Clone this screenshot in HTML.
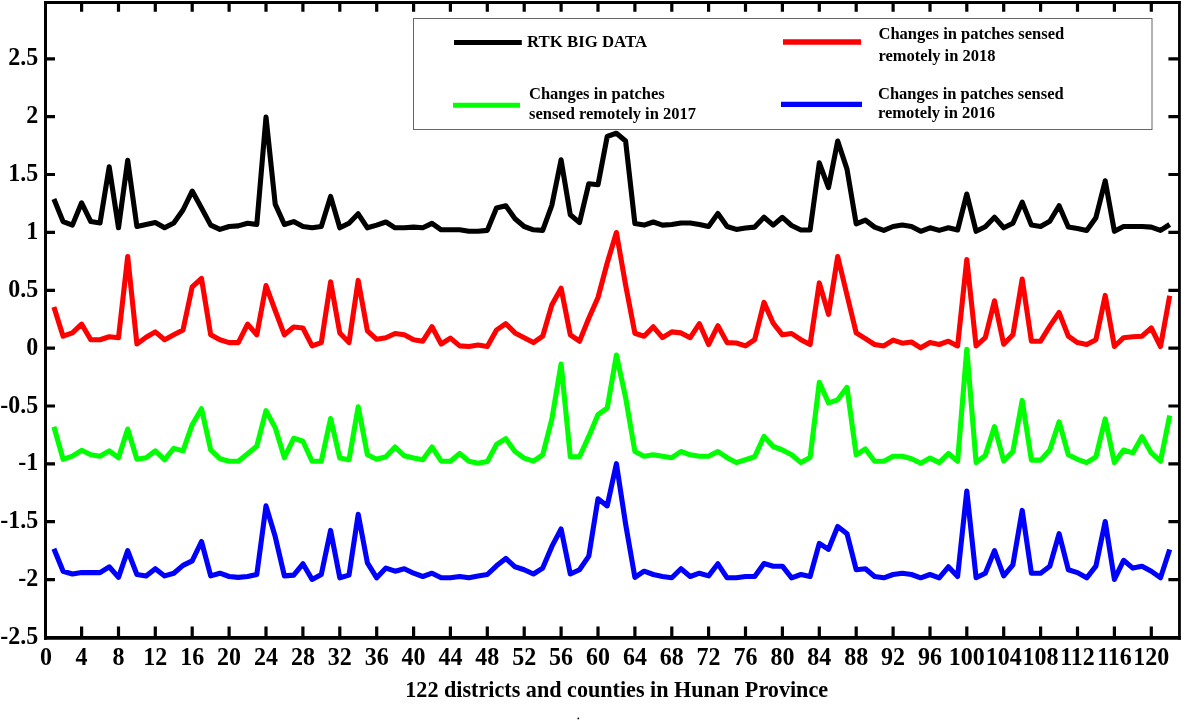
<!DOCTYPE html>
<html><head><meta charset="utf-8"><title>Chart</title>
<style>
html,body{margin:0;padding:0;background:#fff;}
body{width:1182px;height:720px;overflow:hidden;font-family:"Liberation Serif",serif;}
svg{display:block;will-change:transform;}
</style></head>
<body>
<svg width="1182" height="720" viewBox="0 0 1182 720">
<path d="M45.5 1V639.7" stroke="#000" stroke-width="3"/>
<path d="M44 2.5H1180.8" stroke="#000" stroke-width="3"/>
<path d="M1179.45 1V639.7" stroke="#000" stroke-width="2.8"/>
<path d="M44 637.9H1180.8" stroke="#000" stroke-width="3.7"/>
<path d="M81.6 2.5V11.8M81.6 637.9V626.4M118.5 2.5V11.8M118.5 637.9V626.4M155.3 2.5V11.8M155.3 637.9V626.4M192.2 2.5V11.8M192.2 637.9V626.4M229.1 2.5V11.8M229.1 637.9V626.4M266.0 2.5V11.8M266.0 637.9V626.4M302.9 2.5V11.8M302.9 637.9V626.4M339.8 2.5V11.8M339.8 637.9V626.4M376.7 2.5V11.8M376.7 637.9V626.4M413.6 2.5V11.8M413.6 637.9V626.4M450.4 2.5V11.8M450.4 637.9V626.4M487.3 2.5V11.8M487.3 637.9V626.4M524.2 2.5V11.8M524.2 637.9V626.4M561.1 2.5V11.8M561.1 637.9V626.4M598.0 2.5V11.8M598.0 637.9V626.4M634.9 2.5V11.8M634.9 637.9V626.4M671.8 2.5V11.8M671.8 637.9V626.4M708.6 2.5V11.8M708.6 637.9V626.4M745.5 2.5V11.8M745.5 637.9V626.4M782.4 2.5V11.8M782.4 637.9V626.4M819.3 2.5V11.8M819.3 637.9V626.4M856.2 2.5V11.8M856.2 637.9V626.4M893.1 2.5V11.8M893.1 637.9V626.4M930.0 2.5V11.8M930.0 637.9V626.4M966.8 2.5V11.8M966.8 637.9V626.4M1003.7 2.5V11.8M1003.7 637.9V626.4M1040.6 2.5V11.8M1040.6 637.9V626.4M1077.5 2.5V11.8M1077.5 637.9V626.4M1114.4 2.5V11.8M1114.4 637.9V626.4M1151.3 2.5V11.8M1151.3 637.9V626.4M45.5 579.6H55.0M1179.4 579.6H1168.4M45.5 521.7H55.0M1179.4 521.7H1168.4M45.5 463.9H55.0M1179.4 463.9H1168.4M45.5 406.0H55.0M1179.4 406.0H1168.4M45.5 348.1H55.0M1179.4 348.1H1168.4M45.5 290.3H55.0M1179.4 290.3H1168.4M45.5 232.4H55.0M1179.4 232.4H1168.4M45.5 174.5H55.0M1179.4 174.5H1168.4M45.5 116.7H55.0M1179.4 116.7H1168.4M45.5 58.8H55.0M1179.4 58.8H1168.4" stroke="#000" stroke-width="3.2" fill="none"/>
<g font-family="Liberation Serif" font-weight="bold" font-size="24" fill="#000"><text transform="translate(46.1 664.7) scale(1 1.09)" text-anchor="middle">0</text><text transform="translate(81.6 664.7) scale(1 1.09)" text-anchor="middle">4</text><text transform="translate(118.5 664.7) scale(1 1.09)" text-anchor="middle">8</text><text transform="translate(155.3 664.7) scale(1 1.09)" text-anchor="middle">12</text><text transform="translate(192.2 664.7) scale(1 1.09)" text-anchor="middle">16</text><text transform="translate(229.1 664.7) scale(1 1.09)" text-anchor="middle">20</text><text transform="translate(266.0 664.7) scale(1 1.09)" text-anchor="middle">24</text><text transform="translate(302.9 664.7) scale(1 1.09)" text-anchor="middle">28</text><text transform="translate(339.8 664.7) scale(1 1.09)" text-anchor="middle">32</text><text transform="translate(376.7 664.7) scale(1 1.09)" text-anchor="middle">36</text><text transform="translate(413.6 664.7) scale(1 1.09)" text-anchor="middle">40</text><text transform="translate(450.4 664.7) scale(1 1.09)" text-anchor="middle">44</text><text transform="translate(487.3 664.7) scale(1 1.09)" text-anchor="middle">48</text><text transform="translate(524.2 664.7) scale(1 1.09)" text-anchor="middle">52</text><text transform="translate(561.1 664.7) scale(1 1.09)" text-anchor="middle">56</text><text transform="translate(598.0 664.7) scale(1 1.09)" text-anchor="middle">60</text><text transform="translate(634.9 664.7) scale(1 1.09)" text-anchor="middle">64</text><text transform="translate(671.8 664.7) scale(1 1.09)" text-anchor="middle">68</text><text transform="translate(708.6 664.7) scale(1 1.09)" text-anchor="middle">72</text><text transform="translate(745.5 664.7) scale(1 1.09)" text-anchor="middle">76</text><text transform="translate(782.4 664.7) scale(1 1.09)" text-anchor="middle">80</text><text transform="translate(819.3 664.7) scale(1 1.09)" text-anchor="middle">84</text><text transform="translate(856.2 664.7) scale(1 1.09)" text-anchor="middle">88</text><text transform="translate(893.1 664.7) scale(1 1.09)" text-anchor="middle">92</text><text transform="translate(930.0 664.7) scale(1 1.09)" text-anchor="middle">96</text><text transform="translate(966.8 664.7) scale(1 1.09)" text-anchor="middle">100</text><text transform="translate(1003.7 664.7) scale(1 1.09)" text-anchor="middle">104</text><text transform="translate(1040.6 664.7) scale(1 1.09)" text-anchor="middle">108</text><text transform="translate(1077.5 664.7) scale(1 1.09)" text-anchor="middle">112</text><text transform="translate(1114.4 664.7) scale(1 1.09)" text-anchor="middle">116</text><text transform="translate(1151.3 664.7) scale(1 1.09)" text-anchor="middle">120</text></g>
<g font-family="Liberation Serif" font-weight="bold" font-size="24" fill="#000"><text transform="translate(38.3 643.9) scale(1 1.03)" text-anchor="end">-2.5</text><text transform="translate(38.3 586.1) scale(1 1.03)" text-anchor="end">-2</text><text transform="translate(38.3 528.2) scale(1 1.03)" text-anchor="end">-1.5</text><text transform="translate(38.3 470.4) scale(1 1.03)" text-anchor="end">-1</text><text transform="translate(38.3 412.5) scale(1 1.03)" text-anchor="end">-0.5</text><text transform="translate(38.3 354.6) scale(1 1.03)" text-anchor="end">0</text><text transform="translate(38.3 296.8) scale(1 1.03)" text-anchor="end">0.5</text><text transform="translate(38.3 238.9) scale(1 1.03)" text-anchor="end">1</text><text transform="translate(38.3 181.0) scale(1 1.03)" text-anchor="end">1.5</text><text transform="translate(38.3 123.2) scale(1 1.03)" text-anchor="end">2</text><text transform="translate(38.3 65.3) scale(1 1.03)" text-anchor="end">2.5</text></g>
<polyline points="53.9,199.0 63.1,221.6 72.4,225.1 81.6,202.8 90.8,221.6 100.0,223.0 109.2,166.8 118.5,227.8 127.7,160.4 136.9,226.5 146.1,224.5 155.3,222.6 164.6,227.8 173.8,223.0 183.0,210.0 192.2,191.1 201.5,208.0 210.7,225.1 219.9,229.4 229.1,226.5 238.3,225.9 247.6,223.2 256.8,224.5 266.0,117.1 275.2,204.1 284.4,224.5 293.7,221.6 302.9,226.5 312.1,227.8 321.3,226.5 330.6,196.4 339.8,227.8 349.0,223.2 358.2,213.8 367.4,227.8 376.7,225.1 385.9,222.0 395.1,227.8 404.3,227.8 413.6,227.1 422.8,227.8 432.0,223.4 441.2,229.8 450.4,229.8 459.7,229.8 468.9,231.3 478.1,231.3 487.3,230.4 496.5,208.0 505.8,205.7 515.0,218.7 524.2,226.5 533.4,229.8 542.7,230.4 551.9,205.1 561.1,159.8 570.3,214.8 579.5,222.6 588.8,183.7 598.0,184.7 607.2,136.5 616.4,133.2 625.6,141.0 634.9,223.6 644.1,225.1 653.3,222.0 662.5,225.1 671.8,224.5 681.0,223.0 690.2,223.0 699.4,224.5 708.6,226.5 717.9,213.5 727.1,226.5 736.3,229.4 745.5,228.0 754.7,227.1 764.0,217.3 773.2,225.1 782.4,217.3 791.6,225.5 800.9,230.0 810.1,230.0 819.3,162.9 828.5,187.6 837.7,141.0 847.0,169.1 856.2,223.9 865.4,220.1 874.6,227.1 883.8,230.4 893.1,226.5 902.3,225.1 911.5,226.5 920.7,231.3 930.0,227.8 939.2,230.4 948.4,227.8 957.6,230.0 966.8,194.0 976.1,231.3 985.3,226.8 994.5,217.3 1003.7,227.8 1012.9,223.2 1022.2,202.2 1031.4,225.1 1040.6,226.5 1049.8,221.2 1059.1,205.7 1068.3,227.1 1077.5,228.4 1086.7,230.4 1095.9,217.7 1105.2,180.8 1114.4,231.3 1123.6,226.5 1132.8,226.5 1142.0,226.5 1151.3,227.1 1160.5,230.4 1169.7,224.5" fill="none" stroke="#000" stroke-width="5.1" stroke-linejoin="round" stroke-linecap="butt"/>
<polyline points="53.9,307.0 63.1,336.2 72.4,332.9 81.6,324.1 90.8,339.7 100.0,339.7 109.2,336.8 118.5,337.7 127.7,256.5 136.9,344.0 146.1,337.3 155.3,331.9 164.6,339.7 173.8,334.8 183.0,330.0 192.2,286.8 201.5,278.5 210.7,334.8 219.9,339.7 229.1,342.6 238.3,342.6 247.6,324.1 256.8,334.8 266.0,285.6 275.2,310.5 284.4,334.8 293.7,327.0 302.9,328.0 312.1,345.9 321.3,342.6 330.6,281.8 339.8,332.9 349.0,342.6 358.2,280.4 367.4,330.9 376.7,339.3 385.9,337.7 395.1,333.5 404.3,334.8 413.6,339.7 422.8,341.2 432.0,326.7 441.2,344.0 450.4,338.1 459.7,345.9 468.9,346.5 478.1,345.1 487.3,346.5 496.5,330.0 505.8,323.7 515.0,332.9 524.2,337.7 533.4,342.6 542.7,336.2 551.9,304.7 561.1,288.2 570.3,334.8 579.5,341.2 588.8,318.3 598.0,297.5 607.2,263.0 616.4,232.5 625.6,285.0 634.9,333.3 644.1,336.2 653.3,326.8 662.5,337.7 671.8,331.9 681.0,332.9 690.2,337.7 699.4,323.7 708.6,344.5 717.9,325.7 727.1,342.6 736.3,343.0 745.5,345.9 754.7,339.7 764.0,302.4 773.2,323.2 782.4,334.8 791.6,333.5 800.9,339.7 810.1,344.5 819.3,282.9 828.5,314.4 837.7,256.5 847.0,295.0 856.2,332.9 865.4,338.7 874.6,344.5 883.8,345.9 893.1,340.1 902.3,343.2 911.5,342.0 920.7,347.8 930.0,342.6 939.2,344.5 948.4,341.2 957.6,345.9 966.8,259.6 976.1,345.9 985.3,337.7 994.5,300.8 1003.7,344.2 1012.9,334.8 1022.2,279.0 1031.4,341.2 1040.6,341.2 1049.8,326.1 1059.1,312.5 1068.3,336.2 1077.5,342.6 1086.7,344.5 1095.9,339.7 1105.2,295.4 1114.4,346.5 1123.6,337.7 1132.8,336.8 1142.0,336.2 1151.3,328.0 1160.5,346.5 1169.7,295.8" fill="none" stroke="#ff0000" stroke-width="5.1" stroke-linejoin="round" stroke-linecap="butt"/>
<polyline points="53.9,426.7 63.1,459.3 72.4,456.2 81.6,450.3 90.8,454.8 100.0,456.2 109.2,450.9 118.5,457.7 127.7,429.0 136.9,459.3 146.1,457.7 155.3,450.9 164.6,459.7 173.8,448.4 183.0,450.9 192.2,424.7 201.5,408.8 210.7,450.0 219.9,458.7 229.1,461.2 238.3,461.2 247.6,453.8 256.8,446.1 266.0,410.7 275.2,427.6 284.4,457.7 293.7,438.3 302.9,441.2 312.1,461.2 321.3,461.2 330.6,418.5 339.8,458.1 349.0,459.7 358.2,406.8 367.4,454.8 376.7,459.3 385.9,456.8 395.1,447.0 404.3,455.8 413.6,458.1 422.8,459.7 432.0,447.0 441.2,461.2 450.4,461.2 459.7,453.5 468.9,461.2 478.1,463.2 487.3,461.6 496.5,444.5 505.8,438.7 515.0,451.5 524.2,458.1 533.4,461.2 542.7,454.8 551.9,418.9 561.1,364.0 570.3,456.8 579.5,456.8 588.8,436.4 598.0,414.6 607.2,408.2 616.4,355.1 625.6,397.5 634.9,451.5 644.1,456.2 653.3,454.8 662.5,456.2 671.8,457.7 681.0,451.5 690.2,454.8 699.4,456.2 708.6,456.2 717.9,451.5 727.1,457.7 736.3,462.6 745.5,459.7 754.7,456.8 764.0,436.4 773.2,446.5 782.4,450.0 791.6,454.8 800.9,462.6 810.1,457.5 819.3,382.3 828.5,402.9 837.7,399.8 847.0,387.4 856.2,454.8 865.4,449.0 874.6,461.2 883.8,461.2 893.1,456.2 902.3,456.2 911.5,458.7 920.7,463.2 930.0,458.1 939.2,462.6 948.4,453.5 957.6,461.2 966.8,349.3 976.1,462.6 985.3,455.4 994.5,426.6 1003.7,460.9 1012.9,451.5 1022.2,400.4 1031.4,460.1 1040.6,460.1 1049.8,450.0 1059.1,421.8 1068.3,454.8 1077.5,459.3 1086.7,462.6 1095.9,456.8 1105.2,418.9 1114.4,462.6 1123.6,450.0 1132.8,452.9 1142.0,436.7 1151.3,452.9 1160.5,461.2 1169.7,415.5" fill="none" stroke="#00ff00" stroke-width="5.1" stroke-linejoin="round" stroke-linecap="butt"/>
<polyline points="53.9,548.7 63.1,571.2 72.4,574.0 81.6,572.6 90.8,572.6 100.0,572.6 109.2,566.8 118.5,577.4 127.7,550.6 136.9,574.5 146.1,575.9 155.3,568.7 164.6,575.9 173.8,573.2 183.0,565.4 192.2,560.9 201.5,541.5 210.7,575.9 219.9,573.2 229.1,576.5 238.3,577.4 247.6,576.5 256.8,574.5 266.0,505.9 275.2,536.6 284.4,575.9 293.7,575.1 302.9,563.8 312.1,579.4 321.3,574.5 330.6,530.4 339.8,577.8 349.0,575.1 358.2,514.3 367.4,562.9 376.7,577.8 385.9,568.1 395.1,571.2 404.3,568.7 413.6,573.2 422.8,576.5 432.0,573.2 441.2,577.8 450.4,577.8 459.7,576.5 468.9,577.8 478.1,575.9 487.3,574.5 496.5,565.8 505.8,558.4 515.0,566.8 524.2,569.7 533.4,574.0 542.7,568.1 551.9,546.4 561.1,528.9 570.3,574.0 579.5,569.7 588.8,556.1 598.0,498.7 607.2,505.9 616.4,463.7 625.6,524.0 634.9,577.4 644.1,571.2 653.3,574.5 662.5,576.5 671.8,577.8 681.0,568.7 690.2,576.5 699.4,573.2 708.6,575.9 717.9,563.8 727.1,577.8 736.3,577.8 745.5,576.5 754.7,576.5 764.0,563.5 773.2,566.2 782.4,566.2 791.6,577.8 800.9,574.5 810.1,576.5 819.3,543.4 828.5,549.3 837.7,526.5 847.0,533.7 856.2,569.7 865.4,568.7 874.6,576.5 883.8,577.8 893.1,574.5 902.3,573.2 911.5,574.5 920.7,577.8 930.0,574.5 939.2,577.8 948.4,566.8 957.6,576.5 966.8,491.0 976.1,577.8 985.3,573.2 994.5,550.6 1003.7,575.9 1012.9,564.8 1022.2,510.4 1031.4,573.2 1040.6,573.2 1049.8,566.2 1059.1,533.7 1068.3,569.7 1077.5,572.6 1086.7,577.8 1095.9,566.2 1105.2,521.5 1114.4,579.4 1123.6,560.3 1132.8,568.1 1142.0,566.2 1151.3,571.2 1160.5,577.8 1169.7,549.5" fill="none" stroke="#0000ff" stroke-width="5.1" stroke-linejoin="round" stroke-linecap="butt"/>
<rect x="413.5" y="18.5" width="738.5" height="111" fill="#fff" stroke="#666" stroke-width="1"/>
<path d="M454 42.4H521.8" stroke="#000" stroke-width="5"/>
<path d="M783 42.0H861" stroke="#ff0000" stroke-width="5.6"/>
<path d="M453 105.2H520" stroke="#00ff00" stroke-width="5"/>
<path d="M781 104.45H862" stroke="#0000ff" stroke-width="5.3"/>
<g font-family="Liberation Serif" font-weight="bold" font-size="16.5" fill="#000"><text x="527" y="47.1" font-size="16.8">RTK BIG DATA</text><text x="878.5" y="38.8">Changes in patches sensed</text><text x="878.5" y="60.6">remotely in 2018</text><text x="529" y="99.0">Changes in patches</text><text x="529" y="118.5">sensed remotely in 2017</text><text x="878" y="99.0">Changes in patches sensed</text><text x="878" y="118.1">remotely in 2016</text></g>
<text x="405.3" y="696.9" font-family="Liberation Serif" font-weight="bold" font-size="22.15" fill="#000">122 districts and counties in Hunan Province</text>
<circle cx="578.3" cy="718.4" r="0.9" fill="#000"/>
</svg>
</body></html>
